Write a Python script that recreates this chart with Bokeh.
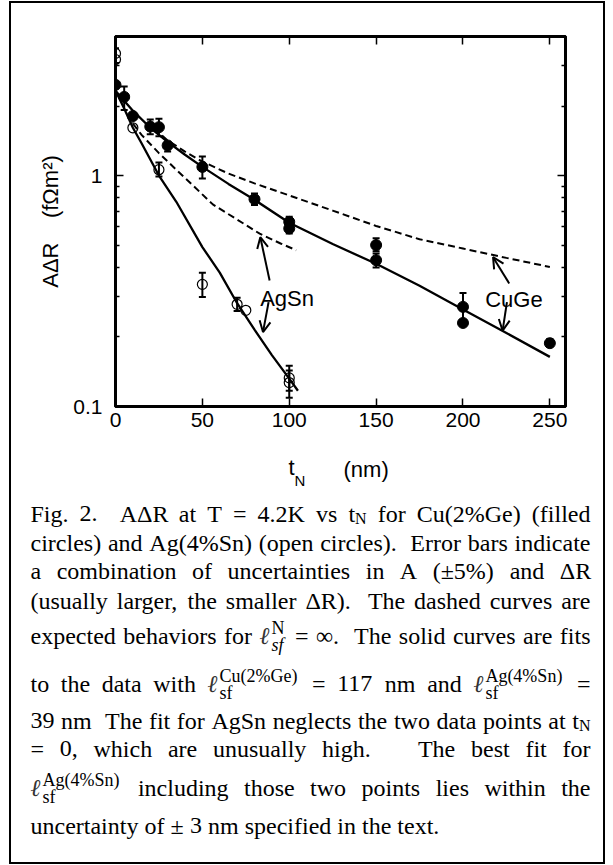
from bokeh.plotting import figure
from bokeh.models import (FixedTicker, LinearAxis, LogAxis, Whisker, TeeHead, ColumnDataSource,
                          Arrow, OpenHead, Range1d)
from bokeh.layouts import column
from bokeh.core.properties import value
from bokeh.embed import file_html
from bokeh.resources import INLINE

# ---------------- data ----------------
cuge_t = [0, 5, 10, 20, 25, 30, 50, 80, 100, 100, 150, 150, 200, 200, 250]
cuge_adr = [2.47, 2.19, 1.81, 1.63, 1.62, 1.35, 1.09, 0.79, 0.63, 0.59, 0.50, 0.43, 0.27, 0.23, 0.188]
cuge_err_t = [5, 20, 25, 30, 50, 80, 100, 150, 150, 200, 250]
cuge_err_lo = [1.92, 1.51, 1.48, 1.27, 0.97, 0.745, 0.561, 0.47, 0.40, 0.235, 0.182]
cuge_err_hi = [2.43, 1.75, 1.76, 1.40, 1.21, 0.837, 0.663, 0.535, 0.46, 0.31, 0.196]

agsn_t = [0, 0, 10, 25, 50, 70, 75, 100, 100]
agsn_adr = [3.38, 3.18, 1.61, 1.06, 0.338, 0.277, 0.261, 0.133, 0.127]
agsn_err_t = [0, 25, 50, 70, 100, 100]
agsn_err_lo = [3.07, 0.99, 0.298, 0.259, 0.117, 0.109]
agsn_err_hi = [3.56, 1.14, 0.379, 0.296, 0.150, 0.143]

cuge_fit_t = [0, 10, 20, 30, 40, 50, 65, 80, 100, 125, 150, 175, 200, 225, 250]
cuge_fit = [2.33, 1.91, 1.61, 1.40, 1.23, 1.09, 0.92, 0.785, 0.625, 0.505, 0.415, 0.333, 0.263, 0.208, 0.164]
agsn_fit_t = [0, 5, 10, 15, 25, 35, 50, 60, 70, 80, 90, 100, 105]
agsn_fit = [2.33, 1.95, 1.61, 1.38, 1.0, 0.77, 0.49, 0.38, 0.28, 0.215, 0.167, 0.132, 0.117]
cuge_inf_t = [22, 30, 40, 50, 65, 80, 100, 125, 150, 175, 200, 225, 250]
cuge_inf = [1.6, 1.42, 1.27, 1.15, 1.02, 0.925, 0.82, 0.705, 0.605, 0.53, 0.483, 0.44, 0.402]
agsn_inf_t = [10, 15, 25, 35, 45, 56, 70, 83, 95, 104]
agsn_inf = [1.68, 1.5, 1.25, 1.06, 0.9, 0.75, 0.645, 0.56, 0.508, 0.475]

x_ticks = [0, 50, 100, 150, 200, 250]
y_ticks = [0.1, 1]
y_tick_labels = ["0.1", "1"]
y_minor_ticks = [0.2, 0.3, 0.4, 0.5, 0.6, 0.7, 0.8, 0.9, 2, 3, 4]

series_labels = ["AgSn", "CuGe"]
label_x = [98.75, 229.3]
label_y = [0.294, 0.2897]

arrow_x0 = [88.7, 88.1, 226.6, 225.3]
arrow_y0 = [0.351, 0.283, 0.341, 0.283]
arrow_x1 = [83.35, 84.9, 217.3, 222.8]
arrow_y1 = [0.541, 0.21, 0.443, 0.213]

# caption text: tokens per line ("ell", sup, sub, sub_italic) / ("tsub", base, sub)
ELL_N = ("ell", "N", "sf", True)
ELL_CU = ("ell", "Cu(2%Ge)", "sf", False)
ELL_AG = ("ell", "Ag(4%Sn)", "sf", False)
T_N = ("tsub", "t", "N")
caption_lines = [
    ["Fig.", "2.", "", "A\u0394R", "at", "T", "=", "4.2K", "vs", T_N, "for", "Cu(2%Ge)", "(filled"],
    ["circles)", "and", "Ag(4%Sn)", "(open", "circles).", "", "Error", "bars", "indicate"],
    ["a", "combination", "of", "uncertainties", "in", "A", "(\u00b15%)", "and", "\u0394R"],
    ["(usually", "larger,", "the", "smaller", "\u0394R).", "", "The", "dashed", "curves", "are"],
    ["expected", "behaviors", "for", ELL_N, "=", "\u221e.", "", "The", "solid", "curves", "are", "fits"],
    ["to", "the", "data", "with", ELL_CU, "=", "117", "nm", "and", ELL_AG, "="],
    ["39", "nm", "", "The", "fit", "for", "AgSn", "neglects", "the", "two", "data", "points", "at", T_N],
    ["=", "0,", "which", "are", "unusually", "high.", "", "", "The", "best", "fit", "for"],
    [ELL_AG, "including", "those", "two", "points", "lies", "within", "the"],
    ["uncertainty", "of", "\u00b1", "3", "nm", "specified", "in", "the", "text."],
]

# ---------------- main figure ----------------
FONT = "Liberation Sans"
p = figure(width=592, height=437, x_range=Range1d(0, 259), y_range=Range1d(0.1, 4),
           y_axis_type="log", output_backend="svg", toolbar_location=None,
           min_border_left=104, min_border_right=38, min_border_top=33, min_border_bottom=34)
p.grid.visible = False
p.outline_line_color = "black"
p.outline_line_width = 3

xb = p.xaxis[0]
yl = p.yaxis[0]
top_ax = LinearAxis()
right_ax = LogAxis()
p.add_layout(top_ax, "above")
p.add_layout(right_ax, "right")

xt = FixedTicker(ticks=x_ticks, minor_ticks=[])
yt = FixedTicker(ticks=y_ticks, minor_ticks=y_minor_ticks)
for ax, tk in [(xb, xt), (top_ax, xt), (yl, yt), (right_ax, yt)]:
    ax.ticker = tk
    ax.axis_line_width = 3
    ax.major_tick_in = 8
    ax.major_tick_out = 0
    ax.minor_tick_in = 4
    ax.minor_tick_out = 0
    ax.major_tick_line_width = 1.5
    ax.minor_tick_line_width = 1.5
    ax.major_label_text_font = FONT
    ax.major_label_text_font_size = "21px"
    ax.major_label_text_color = "black"
for ax in [top_ax, right_ax]:
    ax.major_label_text_color = None
    ax.major_label_text_font_size = "8px"
    ax.major_label_standoff = 2

xb.major_label_standoff = 6
yl.major_label_standoff = 13
yl.major_label_overrides = dict(zip(y_ticks, y_tick_labels))
yl.axis_label = "A\u0394R\u00a0\u00a0\u00a0\u00a0(f\u03a9m\u00b2)"
yl.axis_label_text_font = FONT
yl.axis_label_text_font_size = "22px"
yl.axis_label_text_font_style = "normal"
yl.axis_label_text_color = "black"
yl.axis_label_standoff = 7

p.line(cuge_inf_t, cuge_inf, line_color="black", line_width=2, line_dash="7 4")
p.line(agsn_inf_t, agsn_inf, line_color="black", line_width=2, line_dash="7 4")
p.line(cuge_fit_t, cuge_fit, line_color="black", line_width=2.3)
p.line(agsn_fit_t, agsn_fit, line_color="black", line_width=2.3)

for xs, lo, hi in [(cuge_err_t, cuge_err_lo, cuge_err_hi), (agsn_err_t, agsn_err_lo, agsn_err_hi)]:
    src = ColumnDataSource(dict(t=xs, lo=lo, hi=hi))
    p.add_layout(Whisker(base="t", lower="lo", upper="hi", source=src, dimension="height",
                         line_width=2, line_color="black",
                         upper_head=TeeHead(size=7, line_width=2, line_color="black"),
                         lower_head=TeeHead(size=7, line_width=2, line_color="black")))

p.scatter(cuge_t, cuge_adr, size=11, fill_color="black", line_color="black")
p.scatter(agsn_t, agsn_adr, size=10, fill_color=None, line_color="black", line_width=1.2)

p.text(label_x, label_y, text=series_labels, text_font=value(FONT), text_font_size="22px",
       text_align="center", text_baseline="alphabetic", text_color="black")
asrc = ColumnDataSource(dict(x0=arrow_x0, y0=arrow_y0, x1=arrow_x1, y1=arrow_y1))
p.add_layout(Arrow(x_start="x0", y_start="y0", x_end="x1", y_end="y1", source=asrc,
                   line_width=2, line_color="black",
                   end=OpenHead(size=11, line_width=2, line_color="black")))

# ---------------- caption figure (pixel coordinates, y downwards) ----------------
CW, CH = 592, 422
cap = figure(width=CW, height=CH, x_range=Range1d(0, CW), y_range=Range1d(CH, 0),
             output_backend="svg", toolbar_location=None, x_axis_location=None,
             y_axis_location=None, min_border_left=0, min_border_right=0,
             min_border_top=0, min_border_bottom=0)
cap.grid.visible = False
cap.outline_line_color = None
for fig in (p, cap):
    try:
        fig.frame_align = False
    except Exception:
        pass

# axis title of the chart: t_N (nm)
cap.text([277, 332], [27, 29], text=["t", "(nm)"], text_font=value(FONT),
         text_font_size="22px", text_baseline="alphabetic", text_color="black")
cap.text([283], [40], text=["N"], text_font=value(FONT), text_font_size="15px",
         text_baseline="alphabetic", text_color="black")

# Times-compatible advance widths (per 1000 em) for justification
WID = {" ": 250, "(": 333, ")": 333, "%": 833, ".": 250, ",": 250, "=": 564, "\u00b1": 564,
       "\u0394": 612, "\u221e": 713, "0": 500, "1": 500, "2": 500, "3": 500, "4": 500,
       "5": 500, "6": 500, "7": 500, "8": 500, "9": 500,
       "A": 722, "C": 667, "E": 611, "F": 556, "G": 722, "K": 722, "N": 722, "R": 667,
       "S": 556, "T": 611, "a": 444, "b": 500, "c": 444, "d": 500, "e": 444, "f": 333,
       "g": 500, "h": 500, "i": 278, "j": 278, "k": 500, "l": 278, "m": 778, "n": 500,
       "o": 500, "p": 500, "q": 500, "r": 333, "s": 389, "t": 278, "u": 500, "v": 500,
       "w": 722, "x": 500, "y": 500, "z": 444}


def tw(s, size):
    return sum(WID.get(c, 500) for c in s) * size / 1000.0


FS, SS, NS = 24, 18, 16
ELL_W = 12


def token_width(tok):
    if isinstance(tok, str):
        return tw(tok, FS)
    if tok[0] == "tsub":
        return tw(tok[1], FS) + tw(tok[2], NS)
    return ELL_W + max(tw(tok[1], SS), tw(tok[2], SS)) + 3


segs = dict(x=[], y=[], text=[], size=[], style=[], color=[])


def emit(s, x, y, size, style="normal", color="black"):
    segs["x"].append(x)
    segs["y"].append(y)
    segs["text"].append(s)
    segs["size"].append(f"{size}px")
    segs["style"].append(style)
    segs["color"].append(color)


def draw_token(tok, x, base):
    if isinstance(tok, str):
        if tok:
            emit(tok, x, base, FS)
    elif tok[0] == "tsub":
        emit(tok[1], x, base, FS)
        emit(tok[2], x + tw(tok[1], FS), base + 5, NS)
    else:
        emit("\u2113", x, base, FS, "italic", "#333333")
        emit(tok[1], x + ELL_W, base - 8, SS)
        emit(tok[2], x + ELL_W, base + 9, SS, "italic" if tok[3] else "normal")


cap_left, cap_right = 19, 579
cap_base = [73, 102, 130, 160, 195, 243, 280, 308, 347, 385]
for li, (tokens, base) in enumerate(zip(caption_lines, cap_base)):
    widths = [token_width(t) for t in tokens]
    if li == len(caption_lines) - 1:
        gap = tw(" ", FS)
    else:
        gap = (cap_right - cap_left - sum(widths)) / (len(tokens) - 1)
    x = cap_left
    for tok, w in zip(tokens, widths):
        draw_token(tok, x, base)
        x += w + gap

cap.text("x", "y", text="text", source=ColumnDataSource(segs), text_font=value("Liberation Serif"),
         text_font_size="size", text_font_style="style", text_color="color",
         text_baseline="alphabetic", text_align="left")

layout = column(p, cap, styles={"border": "2px solid black", "margin-left": "9px",
                                "margin-top": "1px", "background-color": "white"})
open("out.html", "w").write(file_html(layout, INLINE))
